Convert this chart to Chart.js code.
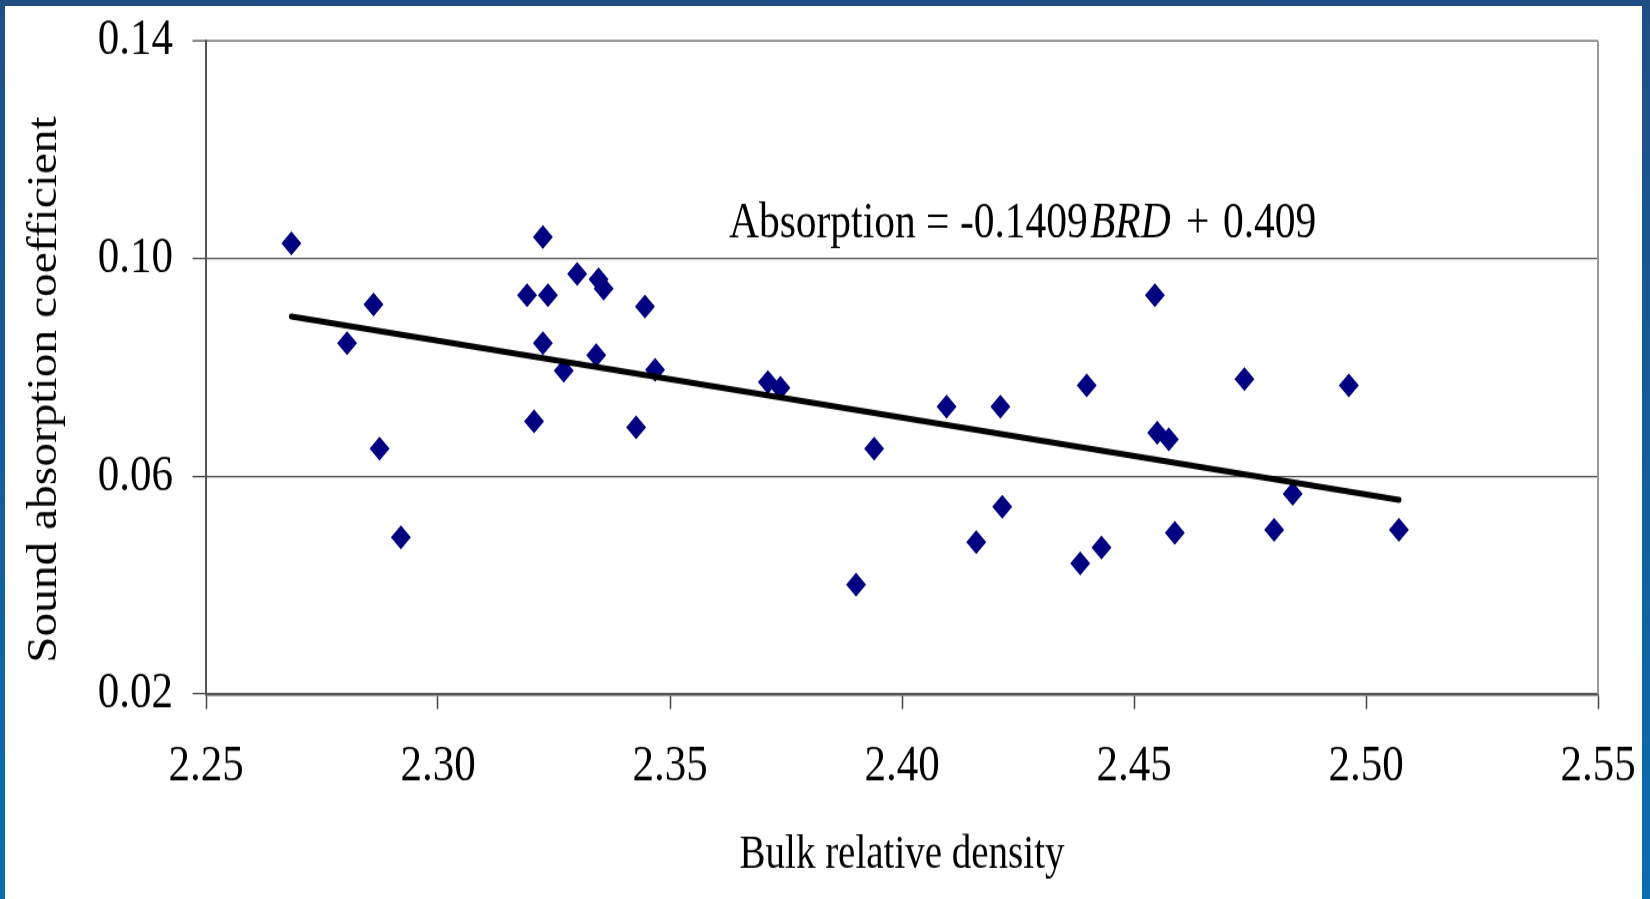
<!DOCTYPE html>
<html>
<head>
<meta charset="utf-8">
<script src="https://cdn.jsdelivr.net/npm/chart.js@4.4.0/dist/chart.umd.min.js"></script>
<style>
  html, body { margin: 0; padding: 0; }
  body {
    width: 1650px; height: 899px; overflow: hidden; position: relative;
    background: linear-gradient(to bottom, #1f4e85, #0a6db0);
  }
  #panel { position: absolute; left: 5px; top: 6px; width: 1637px; height: 893px; background: #fff; }
  #wrap {
    position: absolute; left: 0; top: 0; width: 1650px; height: 750px;
    transform: scale(1, 1.19867); transform-origin: 0 0;
  }
</style>
</head>
<body>
<div id="panel"></div>
<div id="wrap"><canvas id="chart" width="1650" height="750"></canvas></div>
<script>
// bulk relative density (x) and sound absorption coefficient (y)
const bulkDensity = [2.2684, 2.2804, 2.2861, 2.2874, 2.2920, 2.3192, 2.3226, 2.3237, 2.3226, 2.3207,
  2.3271, 2.3300, 2.3346, 2.3357, 2.3341, 2.3446, 2.3468, 2.3427, 2.3711, 2.3738,
  2.3901, 2.3940, 2.4096, 2.4160, 2.4212, 2.4216, 2.4384, 2.4398, 2.4430, 2.4545,
  2.4550, 2.4575, 2.4588, 2.4738, 2.4802, 2.4842, 2.4963, 2.5071]
const absorption = [0.1028, 0.0845, 0.0916, 0.0651, 0.0488, 0.0933, 0.1040, 0.0933, 0.0845, 0.0701,
  0.0794, 0.0972, 0.0962, 0.0945, 0.0823, 0.0912, 0.0796, 0.0690, 0.0773, 0.0763,
  0.0401, 0.0651, 0.0728, 0.0479, 0.0728, 0.0544, 0.0440, 0.0767, 0.0469, 0.0933,
  0.0680, 0.0668, 0.0496, 0.0779, 0.0502, 0.0568, 0.0767, 0.0502]

// linear trend line end points
const trendX = [2.2684, 2.5071]
const trendY = [0.0894, 0.0557]

const xTicks = [2.25, 2.30, 2.35, 2.40, 2.45, 2.50, 2.55]
const yTicks = [0.02, 0.06, 0.10, 0.14]

const xTitle = 'Bulk relative density'
const yTitle = 'Sound absorption coefficient'

const FONT = "'Liberation Serif', 'Times New Roman', serif"

function toPoints(xs, ys) {
    let pts = []
    for (let i = 0; i < xs.length; i++)
        pts.push({x: xs[i], y: ys[i]})
    return pts
}

// y title, regression equation, right frame edge
const textPlugin = {
    id: 'texts',
    afterDraw(chart) {
        const ctx = chart.ctx
        const xs = chart.scales.x, ys = chart.scales.y

        ctx.save()
        ctx.fillStyle = '#000'
        ctx.font = '43px ' + FONT
        ctx.textAlign = 'center'
        ctx.textBaseline = 'middle'
        const w = ctx.measureText(yTitle).width
        ctx.translate(45, 325)
        ctx.rotate(-Math.PI / 2)
        ctx.scale(456 / w, 1)
        ctx.fillText(yTitle, 0, 0)
        ctx.restore()

        ctx.save()
        ctx.fillStyle = '#000'
        ctx.textBaseline = 'alphabetic'
        ctx.textAlign = 'left'
        const x0 = xs.getPixelForValue(2.3627)
        const y0 = ys.getPixelForValue(0.1039)
        ctx.font = '41.5px ' + FONT
        ctx.fillText('Absorption =', x0, y0)
        ctx.fillText('-0.1409', x0 + 231, y0)
        ctx.font = 'italic 41.5px ' + FONT
        ctx.fillText('BRD', x0 + 361, y0)
        ctx.font = '41.5px ' + FONT
        ctx.fillText('+', x0 + 457, y0)
        ctx.fillText('0.409', x0 + 494, y0)
        ctx.restore()

        const a = chart.chartArea
        ctx.save()
        ctx.strokeStyle = '#999'
        ctx.lineWidth = 2
        ctx.beginPath()
        ctx.moveTo(a.right, a.top)
        ctx.lineTo(a.right, a.bottom)
        ctx.stroke()
        ctx.restore()
    }
}

function drawChart() {
    const data = {
        datasets: [{
                type: 'scatter',
                data: toPoints(bulkDensity, absorption),
                backgroundColor: '#000080',
                borderColor: '#000080',
                borderWidth: 0,
                pointStyle: 'rectRot',
                pointRadius: 10,
                order: 1
            }, {
                type: 'line',
                data: toPoints(trendX, trendY),
                borderColor: '#000',
                borderWidth: 5,
                borderCapStyle: 'round',
                pointRadius: 0,
                fill: false,
                order: 0
            }]
    }

    const config = {
        type: 'scatter',
        data: data,
        options: {
            responsive: false,
            animation: false,
            layout: {padding: {left: 0, right: 52, top: 34.2, bottom: 0}},
            plugins: {legend: {display: false}, tooltip: {enabled: false}},
            scales: {
                x: {
                    type: 'linear',
                    min: xTicks[0],
                    max: xTicks[xTicks.length - 1],
                    afterBuildTicks: s => { s.ticks = xTicks.map(v => ({value: v})) },
                    afterFit: s => { s.height = 171; s.paddingLeft = 0; s.paddingRight = 0 },
                    ticks: {
                        color: '#000',
                        font: {family: FONT, size: 43},
                        padding: 22,
                        maxRotation: 0,
                        callback: v => Number(v).toFixed(2)
                    },
                    grid: {drawOnChartArea: false, drawTicks: true, tickLength: 12.5, tickColor: '#444', tickWidth: 1.5},
                    border: {color: '#555', width: 2.5},
                    title: {display: true, text: xTitle, color: '#000', font: {family: FONT, size: 39}, padding: {top: 0, bottom: 13}}
                },
                y: {
                    type: 'linear',
                    min: yTicks[0],
                    max: yTicks[yTicks.length - 1],
                    afterBuildTicks: s => { s.ticks = yTicks.map(v => ({value: v})) },
                    afterFit: s => { s.width = 206; s.paddingTop = 0; s.paddingBottom = 0 },
                    ticks: {
                        color: '#000',
                        font: {family: FONT, size: 43},
                        padding: 19.5,
                        callback: v => Number(v).toFixed(2)
                    },
                    grid: {
                        color: c => (c.tick && Math.abs(c.tick.value - 0.14) < 1e-6) ? '#999' : '#555',
                        lineWidth: c => (c.tick && Math.abs(c.tick.value - 0.14) < 1e-6) ? 2 : 1.2,
                        tickLength: 13.5,
                        tickColor: '#444',
                        tickWidth: 1.2
                    },
                    border: {color: '#555', width: 2}
                }
            }
        },
        plugins: [textPlugin]
    }

    let ctx = document.getElementById('chart').getContext('2d')
    new Chart(ctx, config)
}

if (document.fonts && document.fonts.load) {
    Promise.all([
        document.fonts.load("40px 'Liberation Serif'"),
        document.fonts.load("italic 40px 'Liberation Serif'")
    ]).then(drawChart, drawChart)
} else {
    drawChart()
}
</script>
</body>
</html>
